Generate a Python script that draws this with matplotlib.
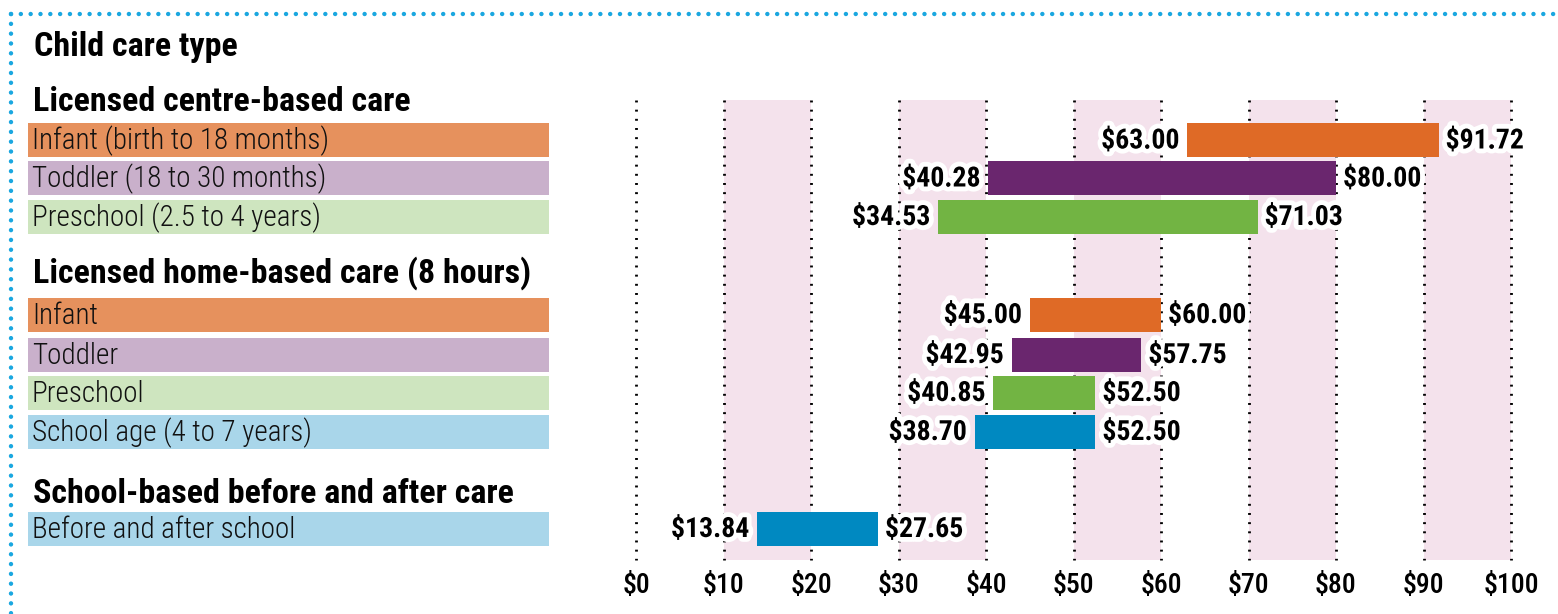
import matplotlib
matplotlib.use("Agg")
from matplotlib import pyplot as plt
from matplotlib import patheffects as pe
from matplotlib.lines import Line2D

# data
groups = ["Licensed centre-based care",
          "Licensed home-based care (8 hours)",
          "School-based before and after care"]
labels = ["Infant (birth to 18 months)", "Toddler (18 to 30 months)",
          "Preschool (2.5 to 4 years)",
          "Infant", "Toddler", "Preschool", "School age (4 to 7 years)",
          "Before and after school"]
low = [63.00, 40.28, 34.53, 45.00, 42.95, 40.85, 38.70, 13.84]
high = [91.72, 80.00, 71.03, 60.00, 57.75, 52.50, 52.50, 27.65]
kinds = ["infant", "toddler", "preschool",
         "infant", "toddler", "preschool", "school",
         "school"]
ticks = [0, 10, 20, 30, 40, 50, 60, 70, 80, 90, 100]

# layout (pixel rows, figure is 1558 x 614)
W, H = 1558, 614
row_y = [140, 178, 216.5, 314.5, 354.5, 392.5, 431.5, 528.5]
group_y = [101, 272, 493]
title_y = 46
row_h = 34

bar_col = {"infant": "#DF6A26", "toddler": "#6A266E",
           "preschool": "#72B443", "school": "#0089C1"}
box_col = {"infant": "#E6915D", "toddler": "#C9B0CB",
           "preschool": "#CEE5BF", "school": "#A9D6EA"}

FONT = ["Roboto Condensed", "DejaVu Sans"]
plt.rcParams["font.family"] = FONT

fig = plt.figure(figsize=(W / 100, H / 100), dpi=100)

# left panel with the label boxes
lx0, lx1 = 28, 549
lab = fig.add_axes([lx0 / W, 0, (lx1 - lx0) / W, 1])
lab.set_xlim(0, lx1 - lx0)
lab.set_ylim(H, 0)
lab.axis("off")
lab.barh(row_y, lx1 - lx0, height=row_h, left=0,
         color=[box_col[k] for k in kinds])
for y, t in zip(row_y, labels):
    lab.text(4, y + 1, t, ha="left", va="center", fontsize=21,
             fontweight="light", color="#111111")
for y, g in zip(group_y, groups):
    lab.text(5, y + 1, g, ha="left", va="center", fontsize=24.5,
             fontweight="bold", color="black")
lab.text(6, title_y + 1, "Child care type", ha="left", va="center",
         fontsize=24.5, fontweight="bold", color="black")

# chart panel
cx0, cx1 = 636, 1511
ax = fig.add_axes([cx0 / W, 0, (cx1 - cx0) / W, 1])
ax.set_xlim(0, 100)
ax.set_ylim(H, 0)
ax.axis("off")

top, bottom = 100, 560
ax.bar(ticks[1:-1:2], bottom - top, bottom=top, width=10, align="edge",
       color="#F4E2EC", zorder=0)
ax.vlines(ticks, top, bottom, colors="black", linewidth=2.0,
          linestyles=(0, (0.7, 2.6)), zorder=1, clip_on=False)

widths = [h - l for l, h in zip(low, high)]
ax.barh(row_y, widths, left=low, height=row_h,
        color=[bar_col[k] for k in kinds], zorder=2)

halo = [pe.withStroke(linewidth=7, foreground="white")]
for y, l, h in zip(row_y, low, high):
    ax.text(l - 0.9, y + 1, f"${l:.2f}", ha="right", va="center",
            fontsize=20, fontweight="bold", path_effects=halo, zorder=3)
    ax.text(h + 0.8, y + 1, f"${h:.2f}", ha="left", va="center",
            fontsize=20, fontweight="bold", path_effects=halo, zorder=3)

for t in ticks:
    ax.text(t, 585, f"${t}", ha="center", va="center", fontsize=20,
            fontweight="medium", color="black")

# dotted frame on top and left
dots = dict(color="#1AA7E0", linewidth=3.2, linestyle=(0, (0.01, 2.2)),
            dash_capstyle="round", solid_capstyle="round")
fig.add_artist(Line2D([11 / W, 1], [1 - 14 / H, 1 - 14 / H],
                      transform=fig.transFigure, **dots))
fig.add_artist(Line2D([11 / W, 11 / W], [1 - 14 / H, 0],
                      transform=fig.transFigure, **dots))

fig.savefig("out.png", dpi=100)
